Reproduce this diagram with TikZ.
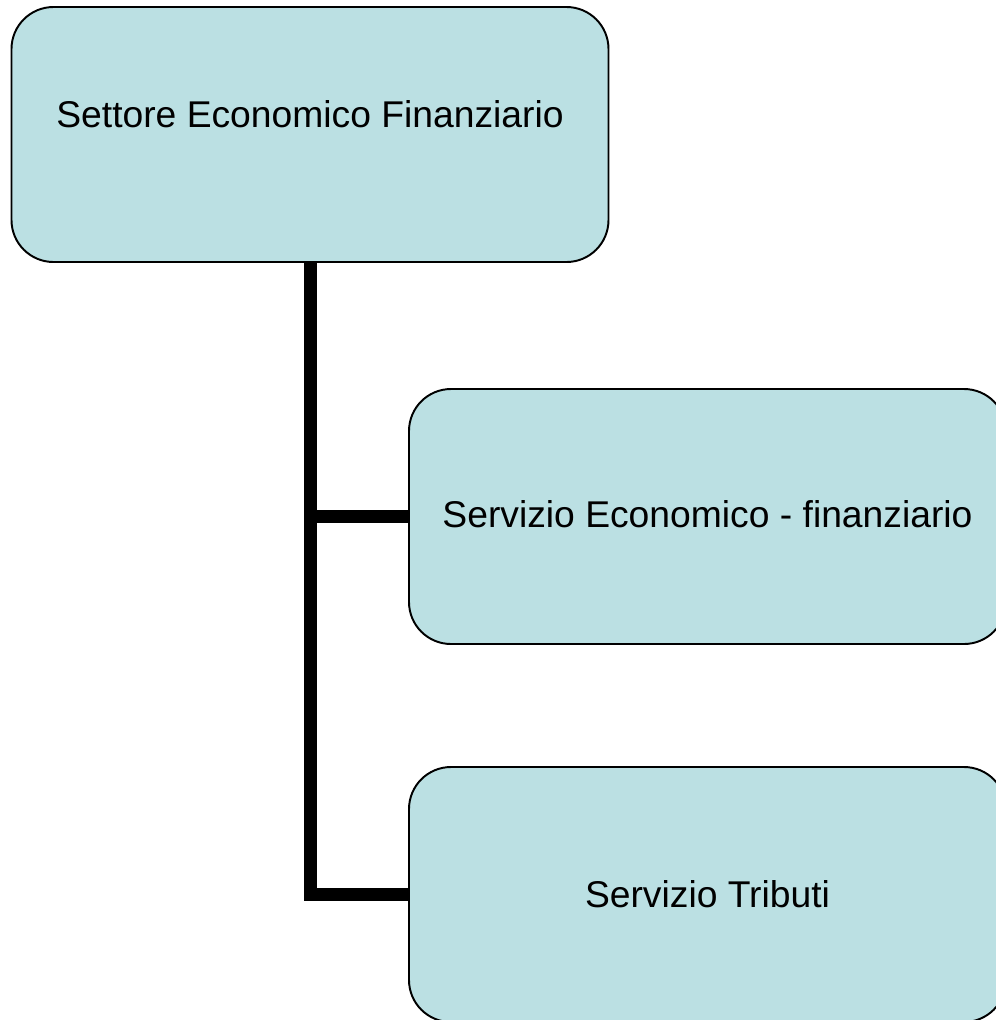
\documentclass[tikz,border=0pt]{standalone}
\usepackage{fontspec}
\setmainfont{Liberation Sans}
\definecolor{boxblue}{RGB}{187,224,227}
\tikzset{
  unitbox/.style={draw=black, line width=1.1pt, fill=boxblue, rounded corners=0.84cm,
    minimum width=11.94cm, minimum height=5.1cm, inner sep=0pt},
  unitlabel/.style={anchor=base, inner sep=0pt, font=\fontsize{21.2}{26}\selectfont},
  conn/.style={line width=7.4pt, line join=miter}
}
\begin{document}
\begin{tikzpicture}
\useasboundingbox (0,0) rectangle (19.92,-20.4);
\clip (0,0) rectangle (19.92,-20.4);
\node[unitbox] (settore) at (6.2,-2.69) {};
\node[unitbox] (economico) at (14.15,-10.33) {};
\node[unitbox] (tributi) at (14.15,-17.89) {};
\draw[conn] (settore.south) |- (economico.west);
\draw[conn] (settore.south) |- (tributi.west);
\node[unitlabel] (settoretext) at (6.2,-2.54) {Settore Economico Finanziario};
\node[unitlabel] (economicotext) at (14.15,-10.54) {Servizio Economico - finanziario};
\node[unitlabel] (tributitext) at (14.15,-18.14) {Servizio Tributi};
\end{tikzpicture}
\end{document}
